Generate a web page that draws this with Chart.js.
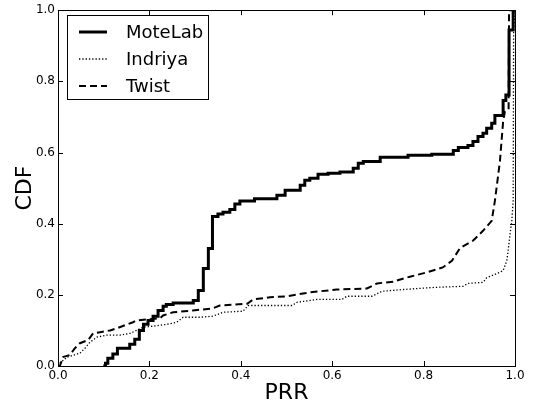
<!DOCTYPE html>
<html><head><meta charset="utf-8">
<script src="https://cdn.jsdelivr.net/npm/chart.js@4/dist/chart.umd.min.js"></script>
<style>html,body{margin:0;padding:0;background:#fff}#wrap{width:534px;height:410px;position:relative}</style>
</head><body><div id="wrap"><canvas id="c" width="534" height="410"></canvas></div>
<script>
const seriesNames = ['MoteLab', 'Indriya', 'Twist'];
const xAxisTitle = 'PRR';
const yAxisTitle = 'CDF';
const tickValues = [0.0, 0.2, 0.4, 0.6, 0.8, 1.0];

const moteLabX = [0.099, 0.104, 0.109, 0.120, 0.130, 0.157, 0.168, 0.178, 0.187, 0.197, 0.208, 0.219, 0.230, 0.237, 0.252, 0.296, 0.307, 0.318, 0.329, 0.338, 0.350, 0.361, 0.376, 0.387, 0.398, 0.430, 0.479, 0.497, 0.530, 0.540, 0.551, 0.569, 0.591, 0.617, 0.646, 0.657, 0.668, 0.705, 0.766, 0.818, 0.865, 0.876, 0.897, 0.908, 0.919, 0.930, 0.938, 0.949, 0.956, 0.974, 0.980, 0.987, 0.996, 1.000];
const moteLabY = [0.000, 0.008, 0.022, 0.034, 0.050, 0.061, 0.075, 0.100, 0.117, 0.128, 0.140, 0.156, 0.168, 0.173, 0.177, 0.184, 0.212, 0.274, 0.330, 0.420, 0.427, 0.432, 0.440, 0.455, 0.464, 0.470, 0.480, 0.494, 0.508, 0.522, 0.528, 0.539, 0.542, 0.545, 0.556, 0.570, 0.575, 0.587, 0.592, 0.595, 0.606, 0.614, 0.620, 0.631, 0.645, 0.654, 0.668, 0.682, 0.704, 0.746, 0.762, 0.944, 1.000, 1.000];

const indriyaX = [0.000, 0.004, 0.020, 0.048, 0.059, 0.070, 0.085, 0.107, 0.136, 0.158, 0.172, 0.186, 0.208, 0.238, 0.260, 0.274, 0.310, 0.339, 0.361, 0.405, 0.416, 0.464, 0.512, 0.523, 0.567, 0.621, 0.632, 0.687, 0.709, 0.755, 0.825, 0.886, 0.897, 0.930, 0.938, 0.961, 0.974, 0.982, 0.985, 0.989, 0.993, 0.996, 0.997, 1.000];
const indriyaY = [0.000, 0.008, 0.025, 0.036, 0.050, 0.067, 0.081, 0.087, 0.087, 0.092, 0.100, 0.109, 0.112, 0.117, 0.123, 0.137, 0.137, 0.140, 0.151, 0.154, 0.170, 0.170, 0.170, 0.179, 0.187, 0.187, 0.196, 0.196, 0.210, 0.215, 0.221, 0.224, 0.232, 0.235, 0.248, 0.260, 0.268, 0.296, 0.324, 0.370, 0.408, 0.464, 0.940, 1.000];

const twistX = [0.000, 0.004, 0.011, 0.026, 0.037, 0.048, 0.066, 0.077, 0.092, 0.114, 0.129, 0.147, 0.164, 0.172, 0.195, 0.223, 0.230, 0.252, 0.295, 0.317, 0.339, 0.354, 0.414, 0.427, 0.464, 0.501, 0.551, 0.610, 0.676, 0.698, 0.733, 0.770, 0.807, 0.842, 0.862, 0.880, 0.908, 0.930, 0.949, 0.956, 0.967, 0.974, 0.978, 0.986, 0.987, 1.000];
const twistY = [0.000, 0.000, 0.025, 0.031, 0.050, 0.064, 0.073, 0.092, 0.095, 0.100, 0.106, 0.115, 0.123, 0.128, 0.131, 0.134, 0.142, 0.151, 0.156, 0.159, 0.162, 0.170, 0.175, 0.187, 0.193, 0.196, 0.207, 0.215, 0.218, 0.232, 0.237, 0.251, 0.263, 0.277, 0.296, 0.332, 0.352, 0.380, 0.408, 0.464, 0.575, 0.687, 0.715, 0.720, 1.000, 1.000];

function pts(xs, ys) { return xs.map((x, i) => ({x: x, y: ys[i]})); }

const FONT = 'DejaVu Sans';

const styles = [
  {width: 3, dash: []},
  {width: 1.3, dash: [1.3, 2]},
  {width: 2, dash: [7, 4]}
];

const framePlugin = {
  id: 'frame',
  afterDatasetsDraw(chart) {
    const {ctx, chartArea: a, scales} = chart;
    const xs = scales.x, ys = scales.y;
    ctx.save();
    ctx.strokeStyle = '#000';
    ctx.lineWidth = 1;
    ctx.setLineDash([]);
    ctx.strokeRect(Math.round(a.left) + 0.5, Math.round(a.top) + 0.5, Math.round(a.right - a.left), Math.round(a.bottom - a.top));
    const tl = 5;
    ctx.beginPath();
    tickValues.forEach(v => {
      const px = Math.round(xs.getPixelForValue(v)) + 0.5;
      ctx.moveTo(px, a.bottom); ctx.lineTo(px, a.bottom - tl);
      ctx.moveTo(px, a.top); ctx.lineTo(px, a.top + tl);
      const py = Math.round(ys.getPixelForValue(v)) + 0.5;
      ctx.moveTo(a.left, py); ctx.lineTo(a.left + tl, py);
      ctx.moveTo(a.right, py); ctx.lineTo(a.right - tl, py);
    });
    ctx.stroke();

    // legend
    const bx = 67.5, by = 15.5, bw = 141, bh = 84;
    ctx.fillStyle = '#fff';
    ctx.fillRect(bx, by, bw, bh);
    ctx.strokeRect(bx, by, bw, bh);
    const rows = [32, 59, 86];
    ctx.font = '18px "' + FONT + '"';
    ctx.textBaseline = 'middle';
    ctx.textAlign = 'left';
    seriesNames.forEach((name, i) => {
      const st = styles[i];
      ctx.beginPath();
      ctx.lineWidth = st.width;
      ctx.setLineDash(st.dash);
      ctx.moveTo(79, rows[i]); ctx.lineTo(107, rows[i]);
      ctx.stroke();
      ctx.setLineDash([]);
      ctx.fillStyle = '#000';
      ctx.fillText(name, 126, rows[i] + 1);
    });
    ctx.restore();
  }
};

const datasets = [
  {label: seriesNames[0], data: pts(moteLabX, moteLabY), stepped: 'before'},
  {label: seriesNames[1], data: pts(indriyaX, indriyaY)},
  {label: seriesNames[2], data: pts(twistX, twistY)}
].map((d, i) => Object.assign(d, {
  borderColor: '#000',
  backgroundColor: '#000',
  borderWidth: styles[i].width,
  borderDash: styles[i].dash,
  pointRadius: 0,
  fill: false,
  tension: 0,
  order: 3 - i
}));

new Chart(document.getElementById('c'), {
  type: 'line',
  data: {datasets: datasets},
  options: {
    responsive: false,
    animation: false,
    devicePixelRatio: 1,
    layout: {padding: {top: 8, right: 19, bottom: 0, left: 0}},
    plugins: {legend: {display: false}, tooltip: {enabled: false}},
    scales: {
      x: {
        type: 'linear', min: 0, max: 1,
        afterBuildTicks(s) { s.ticks = tickValues.map(v => ({value: v})); },
        afterFit(s) { s.height = 44; },
        grid: {display: false, drawTicks: false}, border: {display: false},
        ticks: {padding: 3, color: '#000', font: {family: FONT, size: 12}, maxRotation: 0, autoSkip: false, callback: v => Number(v).toFixed(1)},
        title: {display: true, text: xAxisTitle, color: '#000', font: {family: FONT, size: 22}, padding: {top: 0, bottom: 4}}
      },
      y: {
        type: 'linear', min: 0, max: 1,
        afterBuildTicks(s) { s.ticks = tickValues.map(v => ({value: v})); },
        afterFit(s) { s.width = 58; },
        grid: {display: false, drawTicks: false}, border: {display: false},
        ticks: {padding: 3, color: '#000', font: {family: FONT, size: 12}, autoSkip: false, callback: v => Number(v).toFixed(1)},
        title: {display: true, text: yAxisTitle, color: '#000', font: {family: FONT, size: 22}, padding: {top: 12, bottom: 0}}
      }
    }
  },
  plugins: [framePlugin]
});
</script>
</body></html>
